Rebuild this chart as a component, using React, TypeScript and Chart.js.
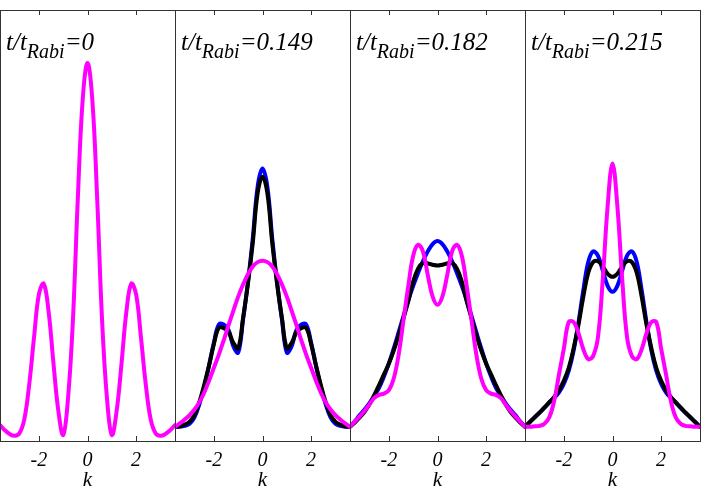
import React, { useEffect, useRef } from 'react';
import { Chart, registerables } from 'chart.js';

Chart.register(...registerables);

// momentum grid k
const K = [-3.6, -3.4, -3.2, -3.0, -2.8, -2.6, -2.4, -2.2, -2.0, -1.8, -1.6, -1.4, -1.2, -1.0, -0.8, -0.6, -0.4, -0.2, 0,
  0.2, 0.4, 0.6, 0.8, 1.0, 1.2, 1.4, 1.6, 1.8, 2.0, 2.2, 2.4, 2.6, 2.8, 3.0, 3.2, 3.4, 3.6];
const X_TICKS = [-2, 0, 2];
const TIME_LABELS = ['0', '0.149', '0.182', '0.215'];

// panel 1: t/tRabi = 0
const P1_MAGENTA = [0.037, 0.025, 0.016, 0.012, 0.018, 0.05, 0.13, 0.24, 0.34, 0.365, 0.30, 0.18, 0.07, 0.014, 0.10, 0.28, 0.56, 0.79, 0.877,
  0.79, 0.56, 0.28, 0.10, 0.014, 0.07, 0.18, 0.30, 0.365, 0.34, 0.24, 0.13, 0.05, 0.018, 0.012, 0.016, 0.025, 0.037];

// panel 2: t/tRabi = 0.149
const P2_BLUE = [0.033, 0.033, 0.035, 0.04, 0.055, 0.085, 0.125, 0.175, 0.228, 0.27, 0.27, 0.258, 0.22, 0.205, 0.282, 0.368, 0.47, 0.59, 0.632,
  0.59, 0.47, 0.368, 0.282, 0.205, 0.22, 0.258, 0.27, 0.27, 0.228, 0.175, 0.125, 0.085, 0.055, 0.04, 0.035, 0.033, 0.033];
const P2_BLACK = [0.033, 0.034, 0.038, 0.045, 0.06, 0.09, 0.13, 0.175, 0.225, 0.262, 0.262, 0.253, 0.228, 0.215, 0.285, 0.365, 0.46, 0.575, 0.613,
  0.575, 0.46, 0.365, 0.285, 0.215, 0.228, 0.253, 0.262, 0.262, 0.225, 0.175, 0.13, 0.09, 0.06, 0.045, 0.038, 0.034, 0.033];
const P2_MAGENTA = [0.033, 0.041, 0.05, 0.06, 0.073, 0.09, 0.112, 0.14, 0.17, 0.2, 0.233, 0.268, 0.302, 0.335, 0.363, 0.387, 0.405, 0.415, 0.418,
  0.415, 0.405, 0.387, 0.363, 0.335, 0.302, 0.268, 0.233, 0.2, 0.17, 0.14, 0.112, 0.09, 0.073, 0.06, 0.05, 0.041, 0.033];

// panel 3: t/tRabi = 0.182
const P3_BLUE = [0.033, 0.046, 0.06, 0.073, 0.088, 0.105, 0.124, 0.15, 0.18, 0.215, 0.252, 0.29, 0.327, 0.36, 0.39, 0.417, 0.44, 0.457, 0.464,
  0.457, 0.44, 0.417, 0.39, 0.36, 0.327, 0.29, 0.252, 0.215, 0.18, 0.15, 0.124, 0.105, 0.088, 0.073, 0.06, 0.046, 0.033];
const P3_BLACK = [0.033, 0.043, 0.055, 0.068, 0.085, 0.107, 0.13, 0.155, 0.18, 0.21, 0.245, 0.285, 0.325, 0.37, 0.4, 0.413, 0.412, 0.409, 0.407,
  0.409, 0.412, 0.413, 0.4, 0.37, 0.325, 0.285, 0.245, 0.21, 0.18, 0.155, 0.13, 0.107, 0.085, 0.068, 0.055, 0.043, 0.033];
const P3_MAGENTA = [0.033, 0.045, 0.057, 0.07, 0.085, 0.1, 0.107, 0.11, 0.118, 0.145, 0.2, 0.28, 0.36, 0.43, 0.455, 0.44, 0.385, 0.335, 0.316,
  0.335, 0.385, 0.44, 0.455, 0.43, 0.36, 0.28, 0.2, 0.145, 0.118, 0.11, 0.107, 0.1, 0.085, 0.07, 0.057, 0.045, 0.033];

// panel 4: t/tRabi = 0.215
const P4_BLUE = [0.033, 0.044, 0.055, 0.066, 0.077, 0.089, 0.1, 0.113, 0.133, 0.163, 0.21, 0.275, 0.35, 0.415, 0.44, 0.43, 0.395, 0.36, 0.346,
  0.36, 0.395, 0.43, 0.44, 0.415, 0.35, 0.275, 0.21, 0.163, 0.133, 0.113, 0.1, 0.089, 0.077, 0.066, 0.055, 0.044, 0.033];
const P4_BLACK = [0.033, 0.044, 0.055, 0.066, 0.078, 0.09, 0.102, 0.118, 0.14, 0.17, 0.215, 0.27, 0.335, 0.39, 0.415, 0.417, 0.405, 0.388, 0.381,
  0.388, 0.405, 0.417, 0.415, 0.39, 0.335, 0.27, 0.215, 0.17, 0.14, 0.118, 0.102, 0.09, 0.078, 0.066, 0.055, 0.044, 0.033];
const P4_MAGENTA = [0.033, 0.033, 0.034, 0.035, 0.04, 0.055, 0.093, 0.155, 0.215, 0.276, 0.276, 0.25, 0.213, 0.19, 0.197, 0.24, 0.375, 0.545, 0.644,
  0.545, 0.375, 0.24, 0.197, 0.19, 0.213, 0.25, 0.276, 0.276, 0.215, 0.155, 0.093, 0.055, 0.04, 0.035, 0.034, 0.033, 0.033];

const PANELS = [
  { magenta: P1_MAGENTA, black: null, blue: null },
  { magenta: P2_MAGENTA, black: P2_BLACK, blue: P2_BLUE },
  { magenta: P3_MAGENTA, black: P3_BLACK, blue: P3_BLUE },
  { magenta: P4_MAGENTA, black: P4_BLACK, blue: P4_BLUE },
];

const SERIF = '"Liberation Serif", "Times New Roman", Times, serif';
const FRAME = '#333333';
const PANEL_W = 175;

const framePlugin = {
  id: 'frameTicks',
  afterDraw(chart: any) {
    const { ctx, chartArea } = chart;
    const xs = chart.scales.x;
    ctx.save();
    ctx.strokeStyle = FRAME;
    ctx.lineWidth = 1;
    ctx.strokeRect(chartArea.left + 0.5, chartArea.top + 0.5, chartArea.right - chartArea.left, chartArea.bottom - chartArea.top);
    ctx.beginPath();
    for (const v of X_TICKS) {
      const x = Math.round(xs.getPixelForValue(v)) + 0.5;
      ctx.moveTo(x, chartArea.top);
      ctx.lineTo(x, chartArea.top + 5);
      ctx.moveTo(x, chartArea.bottom + 0.5);
      ctx.lineTo(x, chartArea.bottom - 5);
    }
    ctx.stroke();
    ctx.restore();
  },
};

function toPoints(vals: number[]) {
  return K.map((k, i) => ({ x: k, y: vals[i] }));
}

function Panel({ index }: { index: number }) {
  const ref = useRef<HTMLCanvasElement | null>(null);
  useEffect(() => {
    if (!ref.current) return;
    const p = PANELS[index];
    const datasets: any[] = [];
    datasets.push({ data: toPoints(p.magenta), borderColor: '#ff00ff' });
    if (p.black) datasets.push({ data: toPoints(p.black), borderColor: '#000000' });
    if (p.blue) datasets.push({ data: toPoints(p.blue), borderColor: '#0000ff' });
    const chart = new Chart(ref.current, {
      type: 'line',
      data: { datasets },
      options: {
        animation: false,
        responsive: false,
        maintainAspectRatio: false,
        layout: { padding: { top: 10, right: 1, left: 0, bottom: 0 } },
        plugins: { legend: { display: false }, tooltip: { enabled: false } },
        elements: {
          point: { radius: 0 },
          line: { borderWidth: 4, tension: 0.4, fill: false, borderJoinStyle: 'round', borderCapStyle: 'round' },
        },
        scales: {
          x: {
            type: 'linear',
            min: -3.6,
            max: 3.6,
            grid: { display: false, drawTicks: false },
            border: { display: false },
            afterBuildTicks: (s: any) => {
              s.ticks = X_TICKS.map((v) => ({ value: v }));
            },
            afterFit: (s: any) => {
              s.height = 50;
            },
            ticks: {
              autoSkip: false,
              maxRotation: 0,
              padding: 8,
              color: '#000',
              font: { family: SERIF, size: 20, style: 'italic' },
              callback: (v: any) => String(v),
            },
            title: {
              display: true,
              text: 'k',
              color: '#000',
              padding: 0,
              font: { family: SERIF, size: 21, style: 'italic', lineHeight: 1 },
            },
          },
          y: { display: false, min: 0, max: 1 },
        },
      } as any,
      plugins: [framePlugin],
    });
    return () => chart.destroy();
  }, [index]);

  const left = PANEL_W * index;
  return (
    <>
      <canvas
        ref={ref}
        width={176}
        height={491}
        style={{ position: 'absolute', left, top: 0, width: 176, height: 491 }}
      />
      <div
        style={{
          position: 'absolute',
          left: left + 6,
          top: 29,
          fontFamily: SERIF,
          fontStyle: 'italic',
          fontSize: 25,
          lineHeight: 1,
          whiteSpace: 'nowrap',
          color: '#000',
        }}
      >
        t/t
        <span style={{ fontSize: 20, position: 'relative', top: 8 }}>Rabi</span>
        ={TIME_LABELS[index]}
      </div>
    </>
  );
}

export default function App() {
  return (
    <div style={{ position: 'absolute', left: 0, top: 0, width: 701, height: 491, background: '#fff', overflow: 'hidden' }}>
      {PANELS.map((_, i) => (
        <Panel key={i} index={i} />
      ))}
    </div>
  );
}
